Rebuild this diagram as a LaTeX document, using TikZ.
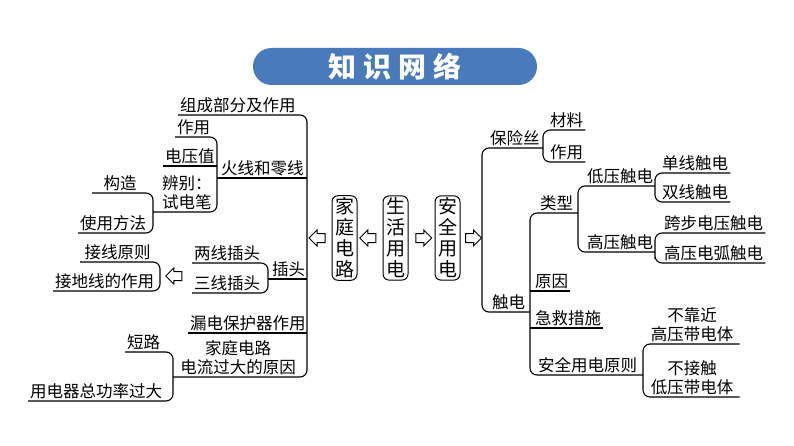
\documentclass[tikz,border=0pt]{standalone}
\usepackage{fontspec}
\setmainfont{Noto Sans CJK SC}
\usetikzlibrary{shapes.arrows,calc}

\definecolor{titleblue}{RGB}{72,122,188}

\tikzset{
  item/.style={anchor=south west, inner sep=2pt, font=\fontsize{16.5}{19}\selectfont},
  citem/.style={anchor=south, inner sep=2pt, align=center, font=\fontsize{16.5}{19}\selectfont},
  br/.style={line width=1.1pt, rounded corners=7pt},
  topic/.style={draw, line width=1pt, rounded corners=6pt, inner sep=2pt,
    minimum width=25pt, minimum height=84pt, align=center, font=\fontsize{19}{21}\selectfont},
  blk/.style={draw, line width=1pt, single arrow, single arrow head extend=3.5pt,
    inner sep=4pt, minimum height=16pt},
  titlebar/.style={fill=titleblue, rounded corners=18.5pt, minimum width=284pt,
    minimum height=37pt, inner sep=0pt, text=white, font=\fontsize{28}{30}\bfseries}
}

\begin{document}
\begin{tikzpicture}[x=1pt,y=-1pt]
  \useasboundingbox (0,0) rectangle (794,446);

  % Title
  \node[titlebar] (title) at (395,66.5) {知\hspace{7pt}识\hspace{7pt}网\hspace{7pt}络};

  % Define coordinates
  \coordinate (Lm) at (307,239);
  \coordinate (Hh) at (217,178);
  \coordinate (Bb) at (153,212);
  \coordinate (Ct) at (268,279);
  \coordinate (Jx) at (160,276);
  \coordinate (Gl) at (173,377);
  \coordinate (Rm) at (482,230);
  \coordinate (Bx) at (543,148);
  \coordinate (Cd) at (530,312);
  \coordinate (Lx) at (578,213);
  \coordinate (Dd) at (655,186);
  \coordinate (Gd) at (655,252);
  \coordinate (Aq) at (643,375);

  % Topics
  \node[topic] (jt) at (344.5,238) {家\\庭\\电\\路};
  \node[topic] (sh) at (395.5,238) {生\\活\\用\\电};
  \node[topic] (ay) at (447.5,238) {安\\全\\用\\电};

  % Left items
  \node[item] (zc) at (178,115) {组成部分及作用};
  \node[item] (zy) at (175,137) {作用};
  \node[item] (dy) at (163,166) {电压值};
  \node[item, align=left] (bb) at (160,212) {辨别：\\试电笔};
  \node[item] (hx) at (219,178) {火线和零线};
  \node[item, minimum width=56pt] (gz) at (92,193) {构造};
  \node[item] (sf) at (78,233) {使用方法};
  \node[item] (lx) at (192,263) {两线插头};
  \node[item] (sx) at (192,293) {三线插头};
  \node[item] (ct) at (270,279) {插头};
  \node[item, minimum width=75pt] (jx) at (80,262) {接线原则};
  \node[item] (jd) at (53,291) {接地线的作用};
  \node[item] (ld) at (188,333) {漏电保护器作用};
  \node[citem] (gl) at (238,377) {家庭电路\\电流过大的原因};
  \node[item] (dl) at (125,352) {短路};
  \node[item] (yz) at (28,401) {用电器总功率过大};

  % Right items
  \node[item] (bx) at (488,148) {保险丝};
  \node[item] (cl) at (548,130) {材料};
  \node[item] (zyr) at (548,162) {作用};
  \node[item] (cd) at (490,312) {触电};
  \node[item] (lxr) at (538,213) {类型};
  \node[item] (dd) at (585,186) {低压触电};
  \node[item] (gd) at (585,252) {高压触电};
  \node[item] (dx) at (660,173) {单线触电};
  \node[item] (sxr) at (660,202) {双线触电};
  \node[item] (kb) at (662,233) {跨步电压触电};
  \node[item] (gh) at (662,263) {高压电弧触电};
  \node[item] (yy) at (533,291) {原因};
  \node[item] (jj) at (533,328) {急救措施};
  \node[item] (aq) at (536,375) {安全用电原则};
  \node[citem, minimum width=95pt] (bk) at (692,344) {不靠近\\高压带电体};
  \node[citem, minimum width=95pt] (bj) at (692,397) {不接触\\低压带电体};

  % Left brackets
  \draw[br] (zc.south west) -| (Lm) |- (Gl);
  \draw[br] (Hh) -- (Hh -| Lm);
  \draw[br] (Ct) -- (Ct -| Lm);
  \draw[br] (ld.south west) -- (ld.south west -| Lm);
  \draw[br] (zy.south west) -| (Hh) |- (Bb);
  \draw[br] (dy.south west) -- (dy.south west -| Hh);
  \draw[br] (gz.south west) -| (Bb) |- (sf.south west);
  \draw[br] (lx.south west) -| (Ct) |- (sx.south west);
  \draw[br] (jx.south west) -| (Jx) |- (jd.south west);
  \draw[br] (dl.south west) -| (Gl) |- (yz.south west);

  % Right brackets
  \draw[br] (Bx) -| (Rm) |- (Cd);
  \draw[br] (cl.south east) -| (Bx) |- (zyr.south east);
  \draw[br] (Lx) -| (Cd) |- (Aq);
  \draw[br] (yy.south west -| Cd) -- (yy.south east);
  \draw[br] (jj.south west -| Cd) -- (jj.south east);
  \draw[br] (Dd) -| (Lx) |- (Gd);
  \draw[br] (dx.south east) -| (Dd) |- (sxr.south east);
  \draw[br] (kb.south east) -| (Gd) |- (gh.south east);
  \draw[br] (bk.south east) -| (Aq) |- (bj.south east);

  % Arrows
  \node[blk, shape border rotate=180] (a1) at ($(jt.west)!0.5!(jt.west -| Lm)$) {};
  \node[blk, shape border rotate=180] (a2) at ($(jt.east)!0.5!(sh.west)$) {};
  \node[blk] (a3) at ($(sh.east)!0.5!(ay.west)$) {};
  \node[blk] (a4) at ($(ay.east)!0.5!(ay.east -| Rm)$) {};
  \node[blk, shape border rotate=180] (a5) at ($(Jx)!0.5!(Jx -| lx.west)$) {};
\end{tikzpicture}
\end{document}
